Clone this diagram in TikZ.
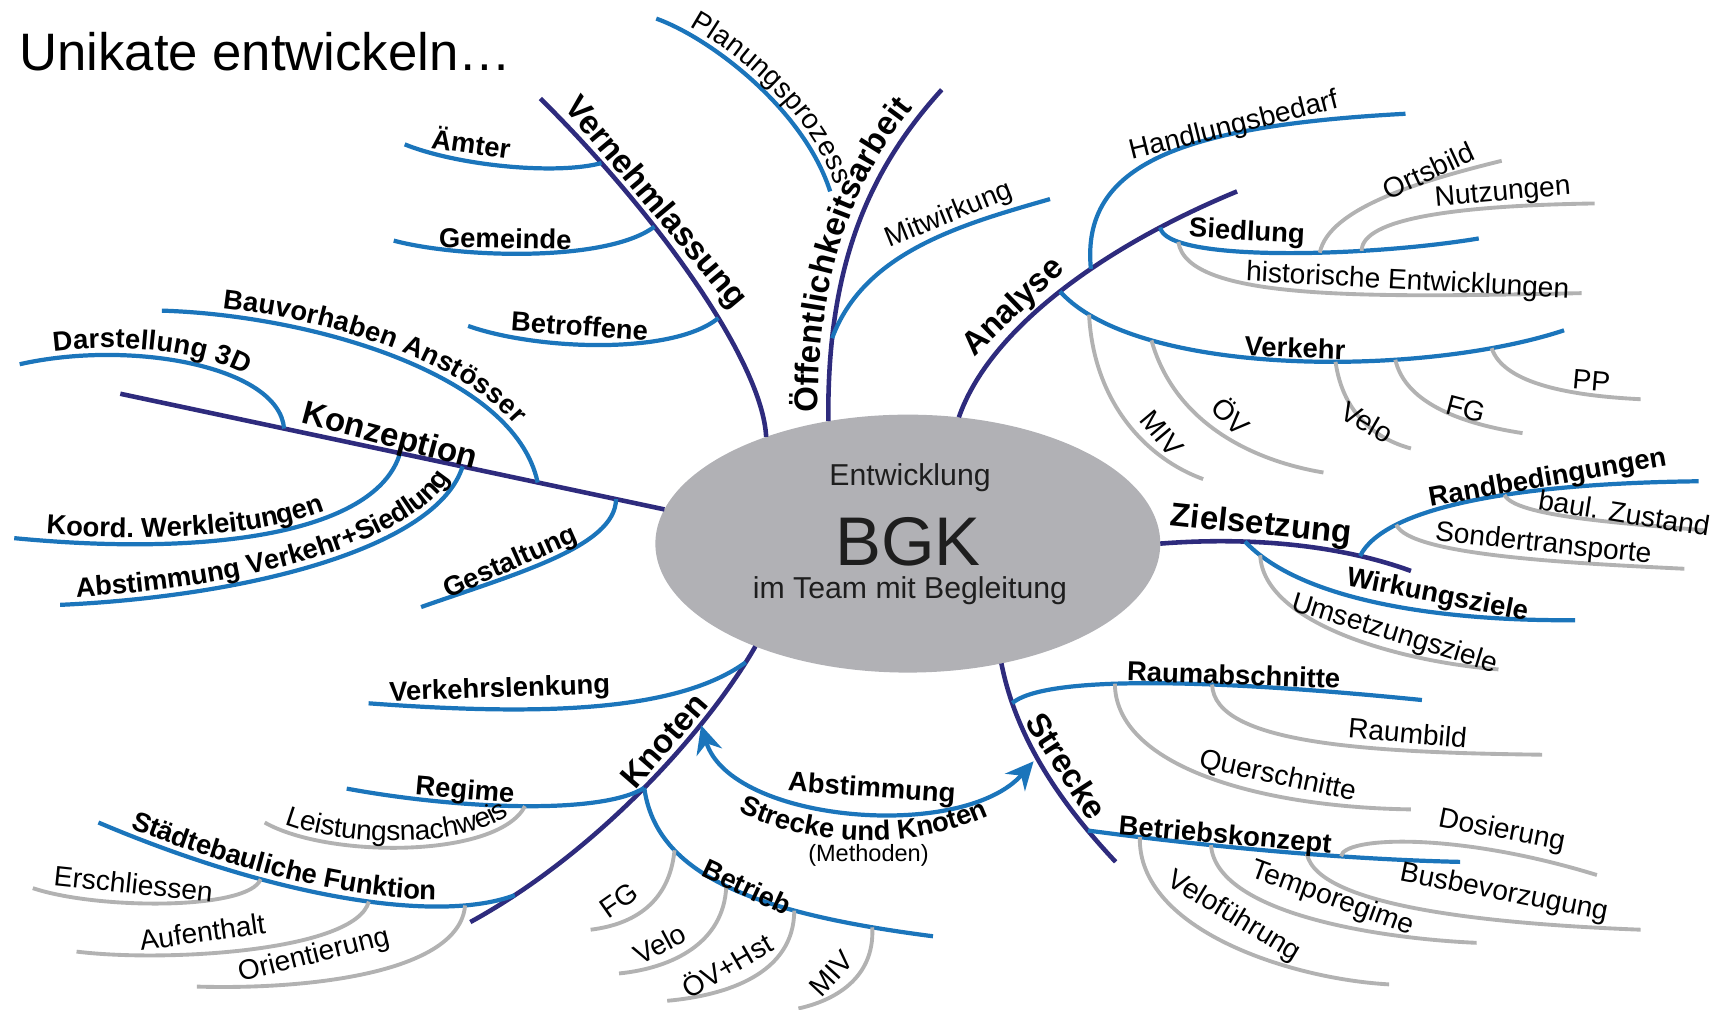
\documentclass[tikz,border=0pt]{standalone}
\usepackage{fontspec}
\setmainfont{Liberation Sans}
\usetikzlibrary{arrows.meta,shapes.geometric,decorations.text}
\definecolor{navy}{RGB}{46,43,125}
\definecolor{branch}{RGB}{27,117,187}
\definecolor{leafgray}{RGB}{178,178,178}
\definecolor{hubgray}{RGB}{177,177,181}
\definecolor{hubink}{RGB}{30,30,30}
\newcommand*{\mainlabelfont}{\fontsize{9.4}{11}\selectfont\bfseries}
\newcommand*{\sublabelfont}{\fontsize{7.8}{9}\selectfont\bfseries}
\newcommand*{\leaflabelfont}{\fontsize{8}{9}\selectfont}
\tikzset{%
  hub/.style={ellipse, fill=hubgray, minimum width=5.05cm, minimum height=2.58cm,
    inner sep=0pt, outer sep=0pt},% centre ellipse
  mainline/.style={draw=navy, line width=1.3pt},% first level branch
  subline/.style={draw=branch, line width=1.2pt},% second level branch
  leafline/.style={draw=leafgray, line width=1.1pt},% third level branch
  mainlabel/.style={font=\mainlabelfont, inner sep=0pt},% text on first level
  sublabel/.style={font=\sublabelfont, inner sep=0pt},% text on second level
  leaflabel/.style={font=\leaflabelfont, inner sep=0pt},% text on third level
  hubtext/.style={font=\fontsize{8.6}{10}\selectfont, text=hubink, inner sep=0pt},% text in ellipse
  maintext/.style 2 args={postaction={decorate, decoration={text along path, raise=3pt,
    text align={#1}, text={|\mainlabelfont|#2}}}},% text bent along a branch
  subtext/.style 2 args={postaction={decorate, decoration={text along path, raise=2pt,
    text align={#1}, text={|\sublabelfont|#2}}}},
  leaftext/.style 2 args={postaction={decorate, decoration={text along path, raise=2pt,
    text align={#1}, text={|\leaflabelfont|#2}}}},
  tips/.style={{Stealth[length=8pt,width=7.5pt]}-{Stealth[length=8pt,width=7.5pt]}}% double arrow
}
\begin{document}
\begin{tikzpicture}[x=0.010938cm, y=-0.010938cm]
\useasboundingbox (0,0) rectangle (1568,923);

\node[font=\fontsize{15}{18}\selectfont, anchor=west, inner sep=0pt] (title) at (17,47) {Unikate entwickeln…};

\node[hub] (bgk) at (830,497) {};
\node[hubtext] (entw) at (832,437) {Entwicklung};
\node[hubtext, font=\fontsize{19.6}{22}\selectfont] (bgkname) at (830,495) {BGK};
\node[hubtext] (team) at (832,540) {im Team mit Begleitung};

% free ends
\coordinate (vE) at (494,90);    \coordinate (aemE) at (370,132); \coordinate (gemE) at (360,220);
\coordinate (betE) at (428,298); \coordinate (oE) at (861,82);    \coordinate (mitE) at (960,182);
\coordinate (plA) at (600,17);   \coordinate (plB) at (759,175);  \coordinate (aE) at (1131,175);
\coordinate (hbE) at (1285,104); \coordinate (siE) at (1352,218); \coordinate (hiE) at (1446,268);
\coordinate (obE) at (1373,147); \coordinate (nuE) at (1458,186); \coordinate (vkE) at (1430,302);
\coordinate (miE) at (1100,438); \coordinate (ovE) at (1210,432); \coordinate (veE) at (1290,410);
\coordinate (fgE) at (1392,396); \coordinate (ppE) at (1500,365); \coordinate (zE) at (1290,522);
\coordinate (wiE) at (1440,567); \coordinate (umE) at (1370,612); \coordinate (rbE) at (1553,440);
\coordinate (bzE) at (1560,485); \coordinate (soE) at (1540,520); \coordinate (sE) at (1020,788);
\coordinate (raE) at (1300,640); \coordinate (quE) at (1290,740); \coordinate (rbiE) at (1410,690);
\coordinate (bkE) at (1335,788); \coordinate (vfE) at (1270,900); \coordinate (tpE) at (1350,862);
\coordinate (bbE) at (1500,850); \coordinate (doE) at (1460,800); \coordinate (kE) at (430,843);
\coordinate (vlE) at (337,643);  \coordinate (reE) at (317,721);  \coordinate (lnE) at (242,752);
\coordinate (stE) at (90,752);   \coordinate (orE) at (180,902);  \coordinate (auE) at (70,870);
\coordinate (erE) at (30,812);   \coordinate (btE) at (853,856);  \coordinate (fkE) at (540,850);
\coordinate (vkoE) at (566,890); \coordinate (ohE) at (610,915);  \coordinate (mkE) at (730,922);
\coordinate (kzE) at (110,360);  \coordinate (d3E) at (18,333);   \coordinate (koE) at (13,492);
\coordinate (avE) at (55,553);   \coordinate (bvE) at (148,284);  \coordinate (geE) at (385,555);
\coordinate (abA) at (641,663);  \coordinate (abB) at (945,696);

% Vernehmlassung
\draw[mainline] (bgk.143) .. controls (697,330) and (600,195) .. (vE)
  coordinate[pos=0.82] (v1) coordinate[pos=0.65] (v2) coordinate[pos=0.40] (v3);
\draw[subline] (v1) .. controls (510,160) and (420,152) .. (aemE);
\draw[subline] (v2) .. controls (555,240) and (420,236) .. (gemE);
\draw[subline] (v3) .. controls (615,325) and (490,320) .. (betE);

% Oeffentlichkeitsarbeit
\draw[mainline, maintext={right, right indent=9pt}{Öffentlichkeitsarbeit}]
  (bgk.123) .. controls (756,250) and (790,160) .. (oE) coordinate[pos=0.2] (o1);
\draw[subline] (o1) .. controls (790,230) and (880,205) .. (mitE);
\draw[subline, leaftext={right, right indent=1pt}{Planungsprozess}] (plA) .. controls (650,35) and (735,100) .. (plB);

% Analyse
\draw[mainline] (bgk.68) .. controls (905,300) and (1010,225) .. (aE)
  coordinate[pos=0.6] (a1) coordinate[pos=0.8] (a2) coordinate[pos=0.5] (a3);
\draw[subline] (a1) .. controls (988,150) and (1080,115) .. (hbE);
\draw[subline] (a2) .. controls (1065,240) and (1250,235) .. (siE)
  coordinate[pos=0.17] (s1) coordinate[pos=0.6] (s2) coordinate[pos=0.7] (s3);
\draw[leafline] (s1) .. controls (1085,275) and (1250,272) .. (hiE);
\draw[leafline] (s2) .. controls (1215,190) and (1300,165) .. (obE);
\draw[leafline] (s3) .. controls (1245,200) and (1330,188) .. (nuE);
\draw[subline] (a3) .. controls (1040,345) and (1300,345) .. (vkE)
  coordinate[pos=0.1] (k1) coordinate[pos=0.25] (k2) coordinate[pos=0.58] (k3)
  coordinate[pos=0.68] (k4) coordinate[pos=0.85] (k5);
\draw[leafline] (k1) .. controls (1000,370) and (1050,420) .. (miE);
\draw[leafline] (k2) .. controls (1075,390) and (1150,422) .. (ovE);
\draw[leafline] (k3) .. controls (1228,380) and (1260,402) .. (veE);
\draw[leafline] (k4) .. controls (1285,370) and (1340,388) .. (fgE);
\draw[leafline] (k5) .. controls (1375,352) and (1440,362) .. (ppE);

% Zielsetzung
\draw[mainline] (bgk.east) .. controls (1150,490) and (1230,500) .. (zE)
  coordinate[pos=0.3] (z1) coordinate[pos=0.76] (z2);
\draw[subline] (z1) .. controls (1190,550) and (1320,568) .. (wiE) coordinate[pos=0.08] (w1);
\draw[leafline] (w1) .. controls (1155,570) and (1280,605) .. (umE);
\draw[subline] (z2) .. controls (1265,465) and (1380,442) .. (rbE)
  coordinate[pos=0.6] (r1) coordinate[pos=0.25] (r2);
\draw[leafline] (r1) .. controls (1385,472) and (1480,478) .. (bzE);
\draw[leafline] (r2) .. controls (1288,508) and (1440,515) .. (soE);

% Strecke
\draw[mainline] (bgk.-52) .. controls (930,680) and (975,740) .. (sE)
  coordinate[pos=0.17] (t1) coordinate[pos=0.81] (t2);
\draw[subline] (t1) .. controls (955,618) and (1100,620) .. (raE)
  coordinate[pos=0.42] (q1) coordinate[pos=0.64] (q2);
\draw[leafline] (q1) .. controls (1020,700) and (1150,738) .. (quE);
\draw[leafline] (q2) .. controls (1110,680) and (1250,688) .. (rbiE);
\draw[subline] (t2) .. controls (1060,768) and (1200,785) .. (bkE)
  coordinate[pos=0.2] (b1) coordinate[pos=0.41] (b2) coordinate[pos=0.65] (b3) coordinate[pos=0.73] (b4);
\draw[leafline] (b1) .. controls (1040,850) and (1180,895) .. (vfE);
\draw[leafline] (b2) .. controls (1112,835) and (1260,858) .. (tpE);
\draw[leafline] (b3) .. controls (1205,830) and (1370,845) .. (bbE);
\draw[leafline] (b4) .. controls (1228,765) and (1330,760) .. (doE);

% Knoten
\draw[mainline] (bgk.214) .. controls (645,670) and (545,780) .. (kE)
  coordinate[pos=0.06] (n1) coordinate[pos=0.49] (n2) coordinate[pos=0.88] (n3);
\draw[subline] (n1) .. controls (620,650) and (500,655) .. (vlE);
\draw[subline] (n2) .. controls (550,745) and (420,740) .. (reE) coordinate[pos=0.49] (g1);
\draw[leafline, leaftext={center}{Leistungsnachweis}] (lnE) .. controls (300,785) and (455,785) .. (g1);
\draw[subline, subtext={left indent=9pt}{Städtebauliche Funktion}]
  (stE) .. controls (250,820) and (400,845) .. (n3)
  coordinate[pos=0.82] (f1) coordinate[pos=0.56] (f2) coordinate[pos=0.32] (f3);
\draw[leafline] (f1) .. controls (420,890) and (280,905) .. (orE);
\draw[leafline] (f2) .. controls (325,870) and (150,880) .. (auE);
\draw[leafline] (f3) .. controls (228,832) and (90,832) .. (erE);
\draw[subline] (n2) .. controls (600,800) and (690,835) .. (btE)
  coordinate[pos=0.28] (e1) coordinate[pos=0.5] (e2) coordinate[pos=0.7] (e3) coordinate[pos=0.88] (e4);
\draw[leafline] (e1) .. controls (612,825) and (580,845) .. (fkE);
\draw[leafline] (e2) .. controls (662,862) and (615,885) .. (vkoE);
\draw[leafline] (e3) .. controls (726,890) and (665,910) .. (ohE);
\draw[leafline] (e4) .. controls (800,895) and (762,915) .. (mkE);

% Konzeption
\draw[mainline] (kzE) -- (bgk.172)
  coordinate[pos=0.301] (c1) coordinate[pos=0.514] (c2) coordinate[pos=0.629] (c3)
  coordinate[pos=0.767] (c4) coordinate[pos=0.911] (c5);
\draw[subline, subtext={left indent=10pt}{Darstellung 3D}] (d3E) .. controls (120,310) and (255,335) .. (c1);
\draw[subline, subtext={left indent=9pt}{Koord. Werkleitungen}] (koE) .. controls (200,510) and (345,485) .. (c2);
\draw[subline, subtext={center}{Abstimmung Verkehr+Siedlung}] (avE) .. controls (230,545) and (400,500) .. (c3);
\draw[subline, subtext={center}{Bauvorhaben Anstösser}] (bvE) .. controls (280,288) and (470,340) .. (c4);
\draw[subline] (c5) .. controls (563,500) and (470,525) .. (geE);

% Abstimmung Strecke und Knoten
\draw[subline, tips] (abA) .. controls (668,752) and (880,770) .. (abB);
\path[decorate, decoration={text along path, text align=center,
  text={|\sublabelfont|Strecke und Knoten}}]
  (668,738) .. controls (740,778) and (840,778) .. (912,742);

% labels
\node[mainlabel, rotate=-50] (lVern) at (599,186) {Vernehmlassung};
\node[mainlabel, rotate=44] (lAna) at (927,281) {Analyse};
\node[mainlabel, rotate=-6] (lZiel) at (1153,481) {Zielsetzung};
\node[mainlabel, rotate=-57] (lStr) at (975,700) {Strecke};
\node[mainlabel, rotate=49] (lKno) at (607,677) {Knoten};
\node[mainlabel, rotate=-15] (lKon) at (356,400) {Konzeption};

\node[sublabel, rotate=-8] (lAem) at (431,130) {Ämter};
\node[sublabel, rotate=-1] (lGem) at (462,218) {Gemeinde};
\node[sublabel, rotate=-4] (lBet) at (530,298) {Betroffene};
\node[sublabel, rotate=24] (lGe) at (467,515) {Gestaltung};
\node[sublabel, rotate=2] (lVl) at (457,631) {Verkehrslenkung};
\node[sublabel, rotate=-5] (lRe) at (425,724) {Regime};
\node[sublabel, rotate=-25] (lBt) at (683,811) {Betrieb};
\node[sublabel, rotate=-4] (lAb) at (797,722) {Abstimmung};
\node[sublabel, rotate=-2] (lRa) at (1128,617) {Raumabschnitte};
\node[sublabel, rotate=-5] (lBk) at (1120,765) {Betriebskonzept};
\node[sublabel, rotate=-11] (lWi) at (1314,545) {Wirkungsziele};
\node[sublabel, rotate=10] (lRb) at (1415,438) {Randbedingungen};
\node[sublabel, rotate=-3] (lSi) at (1140,213) {Siedlung};
\node[sublabel, rotate=-2] (lVk) at (1184,318) {Verkehr};

\node[leaflabel, rotate=22] (lMi) at (868,197) {Mitwirkung};
\node[leaflabel, rotate=14] (lHb) at (1128,116) {Handlungsbedarf};
\node[leaflabel, rotate=25] (lOb) at (1306,156) {Ortsbild};
\node[leaflabel, rotate=5] (lNu) at (1374,177) {Nutzungen};
\node[leaflabel, rotate=-3] (lHi) at (1287,258) {historische Entwicklungen};
\node[leaflabel, rotate=-5] (lPP) at (1455,348) {PP};
\node[leaflabel, rotate=-15] (lFG) at (1340,374) {FG};
\node[leaflabel, rotate=-30] (lVe) at (1250,386) {Velo};
\node[leaflabel, rotate=-45] (lOV) at (1126,380) {ÖV};
\node[leaflabel, rotate=-50] (lMIV) at (1062,396) {MIV};
\node[leaflabel, rotate=-9] (lBz) at (1485,469) {baul. Zustand};
\node[leaflabel, rotate=-6] (lSo) at (1411,498) {Sondertransporte};
\node[leaflabel, rotate=-17] (lUm) at (1275,580) {Umsetzungsziele};
\node[leaflabel, rotate=-5] (lRbi) at (1287,670) {Raumbild};
\node[leaflabel, rotate=-12] (lQu) at (1168,710) {Querschnitte};
\node[leaflabel, rotate=-11] (lDo) at (1373,760) {Dosierung};
\node[leaflabel, rotate=-11] (lBb) at (1375,817) {Busbevorzugung};
\node[leaflabel, rotate=-20] (lTp) at (1218,822) {Temporegime};
\node[leaflabel, rotate=-31] (lVf) at (1128,838) {Veloführung};
\node[leaflabel, rotate=-6] (lEr) at (122,808) {Erschliessen};
\node[leaflabel, rotate=8] (lAu) at (185,852) {Aufenthalt};
\node[leaflabel, rotate=14] (lOr) at (287,874) {Orientierung};
\node[leaflabel, rotate=35] (lFGk) at (566,823) {FG};
\node[leaflabel, rotate=28] (lVek) at (603,863) {Velo};
\node[leaflabel, rotate=30] (lOVk) at (664,882) {ÖV+Hst};
\node[leaflabel, rotate=47] (lMIVk) at (760,890) {MIV};
\node[leaflabel, font=\fontsize{6.7}{8}\selectfont] (lMe) at (794,782) {(Methoden)};

\end{tikzpicture}
\end{document}
